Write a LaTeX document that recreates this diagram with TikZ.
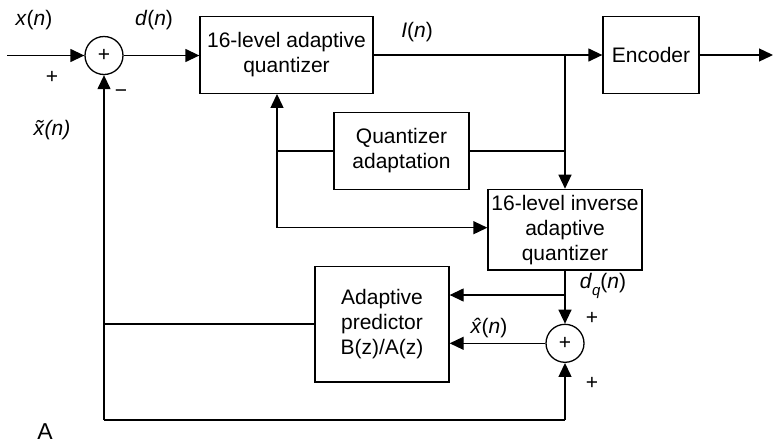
\documentclass[tikz,border=0pt]{standalone}
\usepackage{fontspec}
\setmainfont{Liberation Sans}
\usetikzlibrary{arrows.meta,positioning}
\newcommand{\myhatx}{\textit{\rlap{\kern0.12em\char"02C6}x}}
\newcommand{\mytildex}{\textit{\rlap{\kern0.1em\char"02DC}x}}
\begin{document}
\begin{tikzpicture}[x=1pt,y=-1pt,
  line width=1.3pt,
  font=\fontsize{21}{25}\selectfont,
  blk/.style={draw,rectangle,minimum width=#1,inner sep=0pt,align=center},
  sumc/.style={draw,circle,minimum size=38pt,inner sep=0pt},
  arr/.style={-{Triangle[length=14pt,width=13pt]}},
  lbl/.style={font=\fontsize{21}{24}\selectfont,inner sep=0pt},
  sgn/.style={font=\fontsize{21}{22}\selectfont,inner sep=0pt}]
\useasboundingbox (0,0) rectangle (773,445);
% blocks
\node[sumc] (s1) at (104,55.5) {\fontsize{21}{22}\selectfont+};
\node[blk=173pt,minimum height=76.6pt] (q) at (286.5,55) {16-level adaptive\\quantizer};
\node[blk=96pt,minimum height=76.6pt] (enc) at (651,55) {Encoder};
\node[blk=135pt,minimum height=76.6pt] (qa) at (401.5,151) {Quantizer\\adaptation};
\node[blk=154pt,minimum height=80.7pt] (iq) at (565,229.7) {16-level inverse\\adaptive\\quantizer};
\node[blk=134pt,minimum height=115.7pt] (pred) at (382,324) {Adaptive\\predictor\\B(z)/A(z)};
\node[sumc] (s2) at (565,343.3) {\fontsize{21}{22}\selectfont+};
% coordinates
\coordinate (in) at (7,55.5);
\coordinate (out) at (773,55);
\coordinate (j1) at (565,55);
\coordinate (j2) at (565,151);
\coordinate (j3) at (277,151);
\coordinate (j4) at (277,227.7);
\coordinate (j5) at (565,295);
\coordinate (j6) at (104,324);
\coordinate (j7) at (104,420);
\coordinate (j8) at (565,420);
% connectors
\draw[arr] (in) -- (s1.west);
\draw[arr] (s1.east) -- (s1.east -| q.west);
\draw[arr] (q.east |- j1) -- (enc.west |- j1);
\draw[arr] (enc.east) -- (out);
\draw[arr] (j1) -- (iq.north);
\draw (qa.east) -- (j2);
\draw (qa.west) -- (j3);
\draw[arr] (j4) -- (j3 |- q.south);
\draw[arr] (j4) -- (j4 -| iq.west);
\draw[arr] (iq.south) -- (s2.north);
\draw[arr] (j5) -- (j5 -| pred.east);
\draw[arr] (s2.west) -- (s2.west -| pred.east);
\draw (pred.west |- j6) -- (j6);
\draw[arr] (j7) -- (s1.south);
\draw (j7) -- (j8);
\draw[arr] (j8) -- (s2.south);
% labels
\node[lbl] (lx) at (34,20) {\textit{x}(\textit{n})};
\node[lbl] (ld) at (154,20) {\textit{d}(\textit{n})};
\node[lbl] (li) at (417,32) {\textit{I}(\textit{n})};
\node[lbl] (lxt) at (52,130) {\mytildex\textit{(n)}};
\node[lbl] (ldq) at (603,286) {\textit{d}\raisebox{-0.3em}{\fontsize{15}{15}\selectfont\textit{q}}(\textit{n})};
\node[lbl] (lxh) at (489,328) {\myhatx(\textit{n})};
\node[sgn] (p1) at (52,77) {+};
\node[sgn] (m1) at (121,94) {\textminus};
\node[sgn] (p2) at (592,318) {+};
\node[sgn] (p3) at (592,383) {+};
\node[lbl,font=\fontsize{23}{24}\selectfont] (la) at (45,432) {A};
\end{tikzpicture}
\end{document}
